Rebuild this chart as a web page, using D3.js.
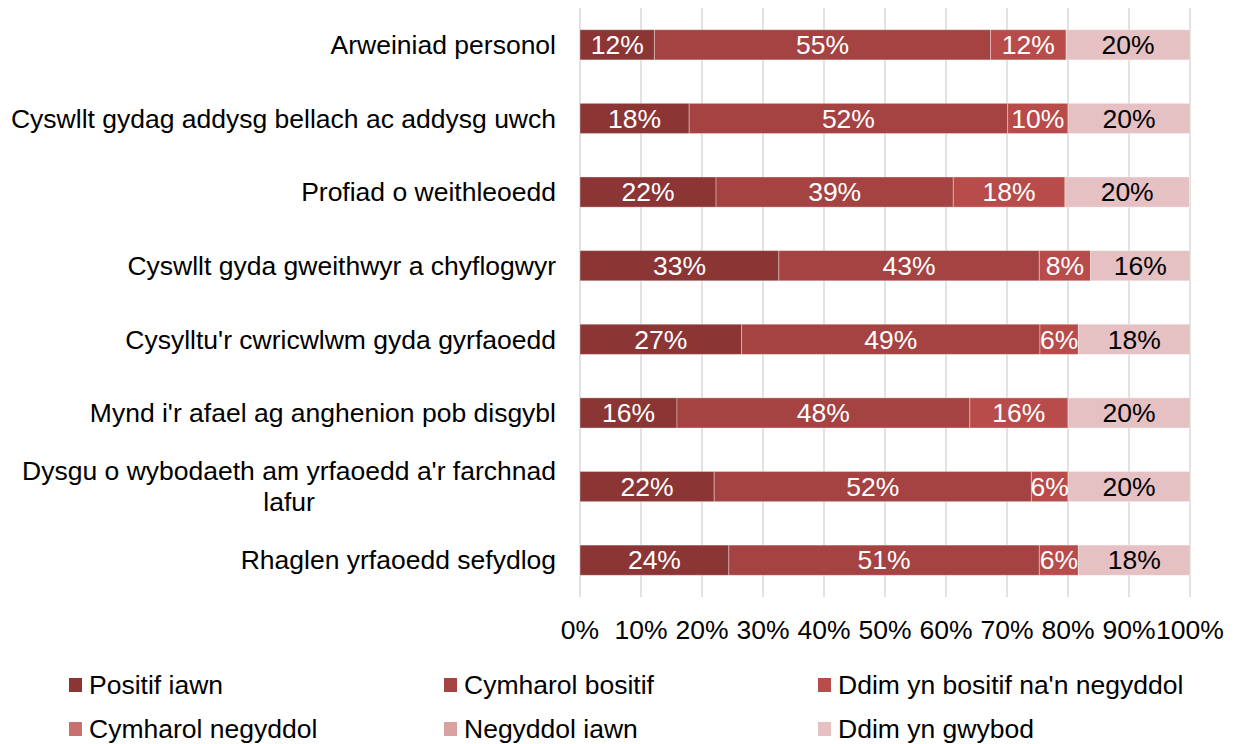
<!DOCTYPE html>
<html>
<head>
<meta charset="utf-8">
<script src="https://cdn.jsdelivr.net/npm/d3@7/dist/d3.min.js"></script>
<style>
  body { margin: 0; background: #fff; }
  svg text { font-family: "Liberation Sans", Arial, sans-serif; }
</style>
</head>
<body>
<div id="chart"></div>
<script>
// categories, top to bottom
const categories = [
  "Arweiniad personol",
  "Cyswllt gydag addysg bellach ac addysg uwch",
  "Profiad o weithleoedd",
  "Cyswllt gyda gweithwyr a chyflogwyr",
  "Cysylltu'r cwricwlwm gyda gyrfaoedd",
  "Mynd i'r afael ag anghenion pob disgybl",
  "Dysgu o wybodaeth am yrfaoedd a'r farchnad lafur",
  "Rhaglen yrfaoedd sefydlog"
];

const seriesNames = [
  "Positif iawn",
  "Cymharol bositif",
  "Ddim yn bositif na'n negyddol",
  "Cymharol negyddol",
  "Negyddol iawn",
  "Ddim yn gwybod"
];

const seriesColors = ["#8b3535", "#a54242", "#b84c4a", "#c8706d", "#d9a1a0", "#e5c1c3"];

// values in percent, one array per series, same order as categories
const positifIawn      = [12.2, 17.9, 22.3, 32.6, 26.5, 15.9, 22.0, 24.4];
const cymharolBositif  = [55.1, 52.2, 38.9, 42.7, 48.9, 48.0, 52.0, 50.9];
const ddimYnBositif    = [12.4, 9.9, 18.3, 8.4, 6.3, 16.1, 6.0, 6.4];
const cymharolNegyddol = [0, 0, 0, 0, 0, 0, 0, 0];
const negyddolIawn     = [0, 0, 0, 0, 0, 0, 0, 0];
const ddimYnGwybod     = [20.3, 20.0, 20.4, 16.3, 18.3, 20.0, 20.0, 18.3];

const xTicks = [0, 10, 20, 30, 40, 50, 60, 70, 80, 90, 100];

const series = [positifIawn, cymharolBositif, ddimYnBositif, cymharolNegyddol, negyddolIawn, ddimYnGwybod];

// build rows for the stack
const rows = categories.map((c, i) => {
  const r = { cat: c };
  seriesNames.forEach((s, j) => { r[s] = series[j][i]; });
  return r;
});

const width = 1234, height = 744;
const fontSize = 26.5;

const svg = d3.select('#chart').append('svg')
  .attr('width', width)
  .attr('height', height);

const x = d3.scaleLinear().domain([0, 100]).range([580, 1190]);
const y = d3.scaleBand().domain(categories).range([8, 597])
  .paddingInner(0.59).paddingOuter(0.295);

// gridlines
svg.append('g')
  .selectAll('line')
  .data(xTicks)
  .enter()
  .append('line')
  .attr('x1', d => x(d)).attr('x2', d => x(d))
  .attr('y1', 8).attr('y2', 597)
  .attr('stroke', '#d9d9d9')
  .attr('stroke-width', 1.5);

// x tick labels
svg.append('g')
  .selectAll('text')
  .data(xTicks)
  .enter()
  .append('text')
  .attr('x', d => x(d))
  .attr('y', 639)
  .attr('text-anchor', 'middle')
  .attr('font-size', fontSize)
  .attr('fill', '#000')
  .text(d => d + '%');

// stacked bars
const stack = d3.stack().keys(seriesNames);
const layers = stack(rows);

const layerG = svg.append('g')
  .selectAll('g')
  .data(layers)
  .enter()
  .append('g')
  .attr('fill', (d, i) => seriesColors[i]);

layerG.selectAll('rect')
  .data(d => d.map(v => ({ v: v, key: d.key })))
  .enter()
  .append('rect')
  .attr('x', d => x(d.v[0]))
  .attr('y', d => y(d.v.data.cat))
  .attr('width', d => x(d.v[1]) - x(d.v[0]))
  .attr('height', y.bandwidth())
  .attr('stroke', 'rgba(255,255,255,0.35)')
  .attr('stroke-width', 1);

// value labels
layerG.selectAll('text')
  .data((d, i) => d.map(v => ({ v: v, idx: i })).filter(e => e.v[1] - e.v[0] > 0))
  .enter()
  .append('text')
  .attr('x', d => (x(d.v[0]) + x(d.v[1])) / 2)
  .attr('y', d => y(d.v.data.cat) + y.bandwidth() / 2)
  .attr('dy', '0.35em')
  .attr('text-anchor', 'middle')
  .attr('font-size', fontSize)
  .attr('fill', d => d.idx === 5 ? '#000' : '#fff')
  .text(d => Math.round(d.v[1] - d.v[0]) + '%');

// category labels, wrapped Excel style (lines centred, block right-aligned)
const labelRight = 556, maxLabelWidth = 552, lineHeight = 31;
const labelG = svg.append('g');
categories.forEach(c => {
  const cy = y(c) + y.bandwidth() / 2;
  const t = labelG.append('text')
    .attr('font-size', fontSize)
    .attr('fill', '#000');
  // split into lines
  const words = c.split(' ');
  const lines = [];
  let line = [];
  words.forEach(w => {
    line.push(w);
    t.text(line.join(' '));
    if (t.node().getComputedTextLength() > maxLabelWidth && line.length > 1) {
      line.pop();
      lines.push(line.join(' '));
      line = [w];
    }
  });
  lines.push(line.join(' '));
  t.text(null);
  let blockW = 0;
  lines.forEach(l => {
    t.text(l);
    blockW = Math.max(blockW, t.node().getComputedTextLength());
  });
  t.text(null);
  const cx = labelRight - blockW / 2;
  const top = cy - (lines.length - 1) * lineHeight / 2;
  t.attr('text-anchor', 'middle');
  lines.forEach((l, i) => {
    t.append('tspan')
      .attr('x', cx)
      .attr('y', top + i * lineHeight)
      .attr('dy', '0.35em')
      .text(l);
  });
});

// legend
const legendX = [69, 444, 818];
const legendY = [685, 729];
const legend = svg.append('g')
  .selectAll('g')
  .data(seriesNames)
  .enter()
  .append('g')
  .attr('transform', (d, i) => 'translate(' + legendX[i % 3] + ',' + legendY[Math.floor(i / 3)] + ')');

legend.append('rect')
  .attr('x', 0).attr('y', -7)
  .attr('width', 13).attr('height', 14)
  .attr('fill', (d, i) => seriesColors[i]);

legend.append('text')
  .attr('x', 20)
  .attr('y', 0)
  .attr('dy', '0.35em')
  .attr('font-size', fontSize)
  .attr('fill', '#000')
  .text(d => d);
</script>
</body>
</html>
